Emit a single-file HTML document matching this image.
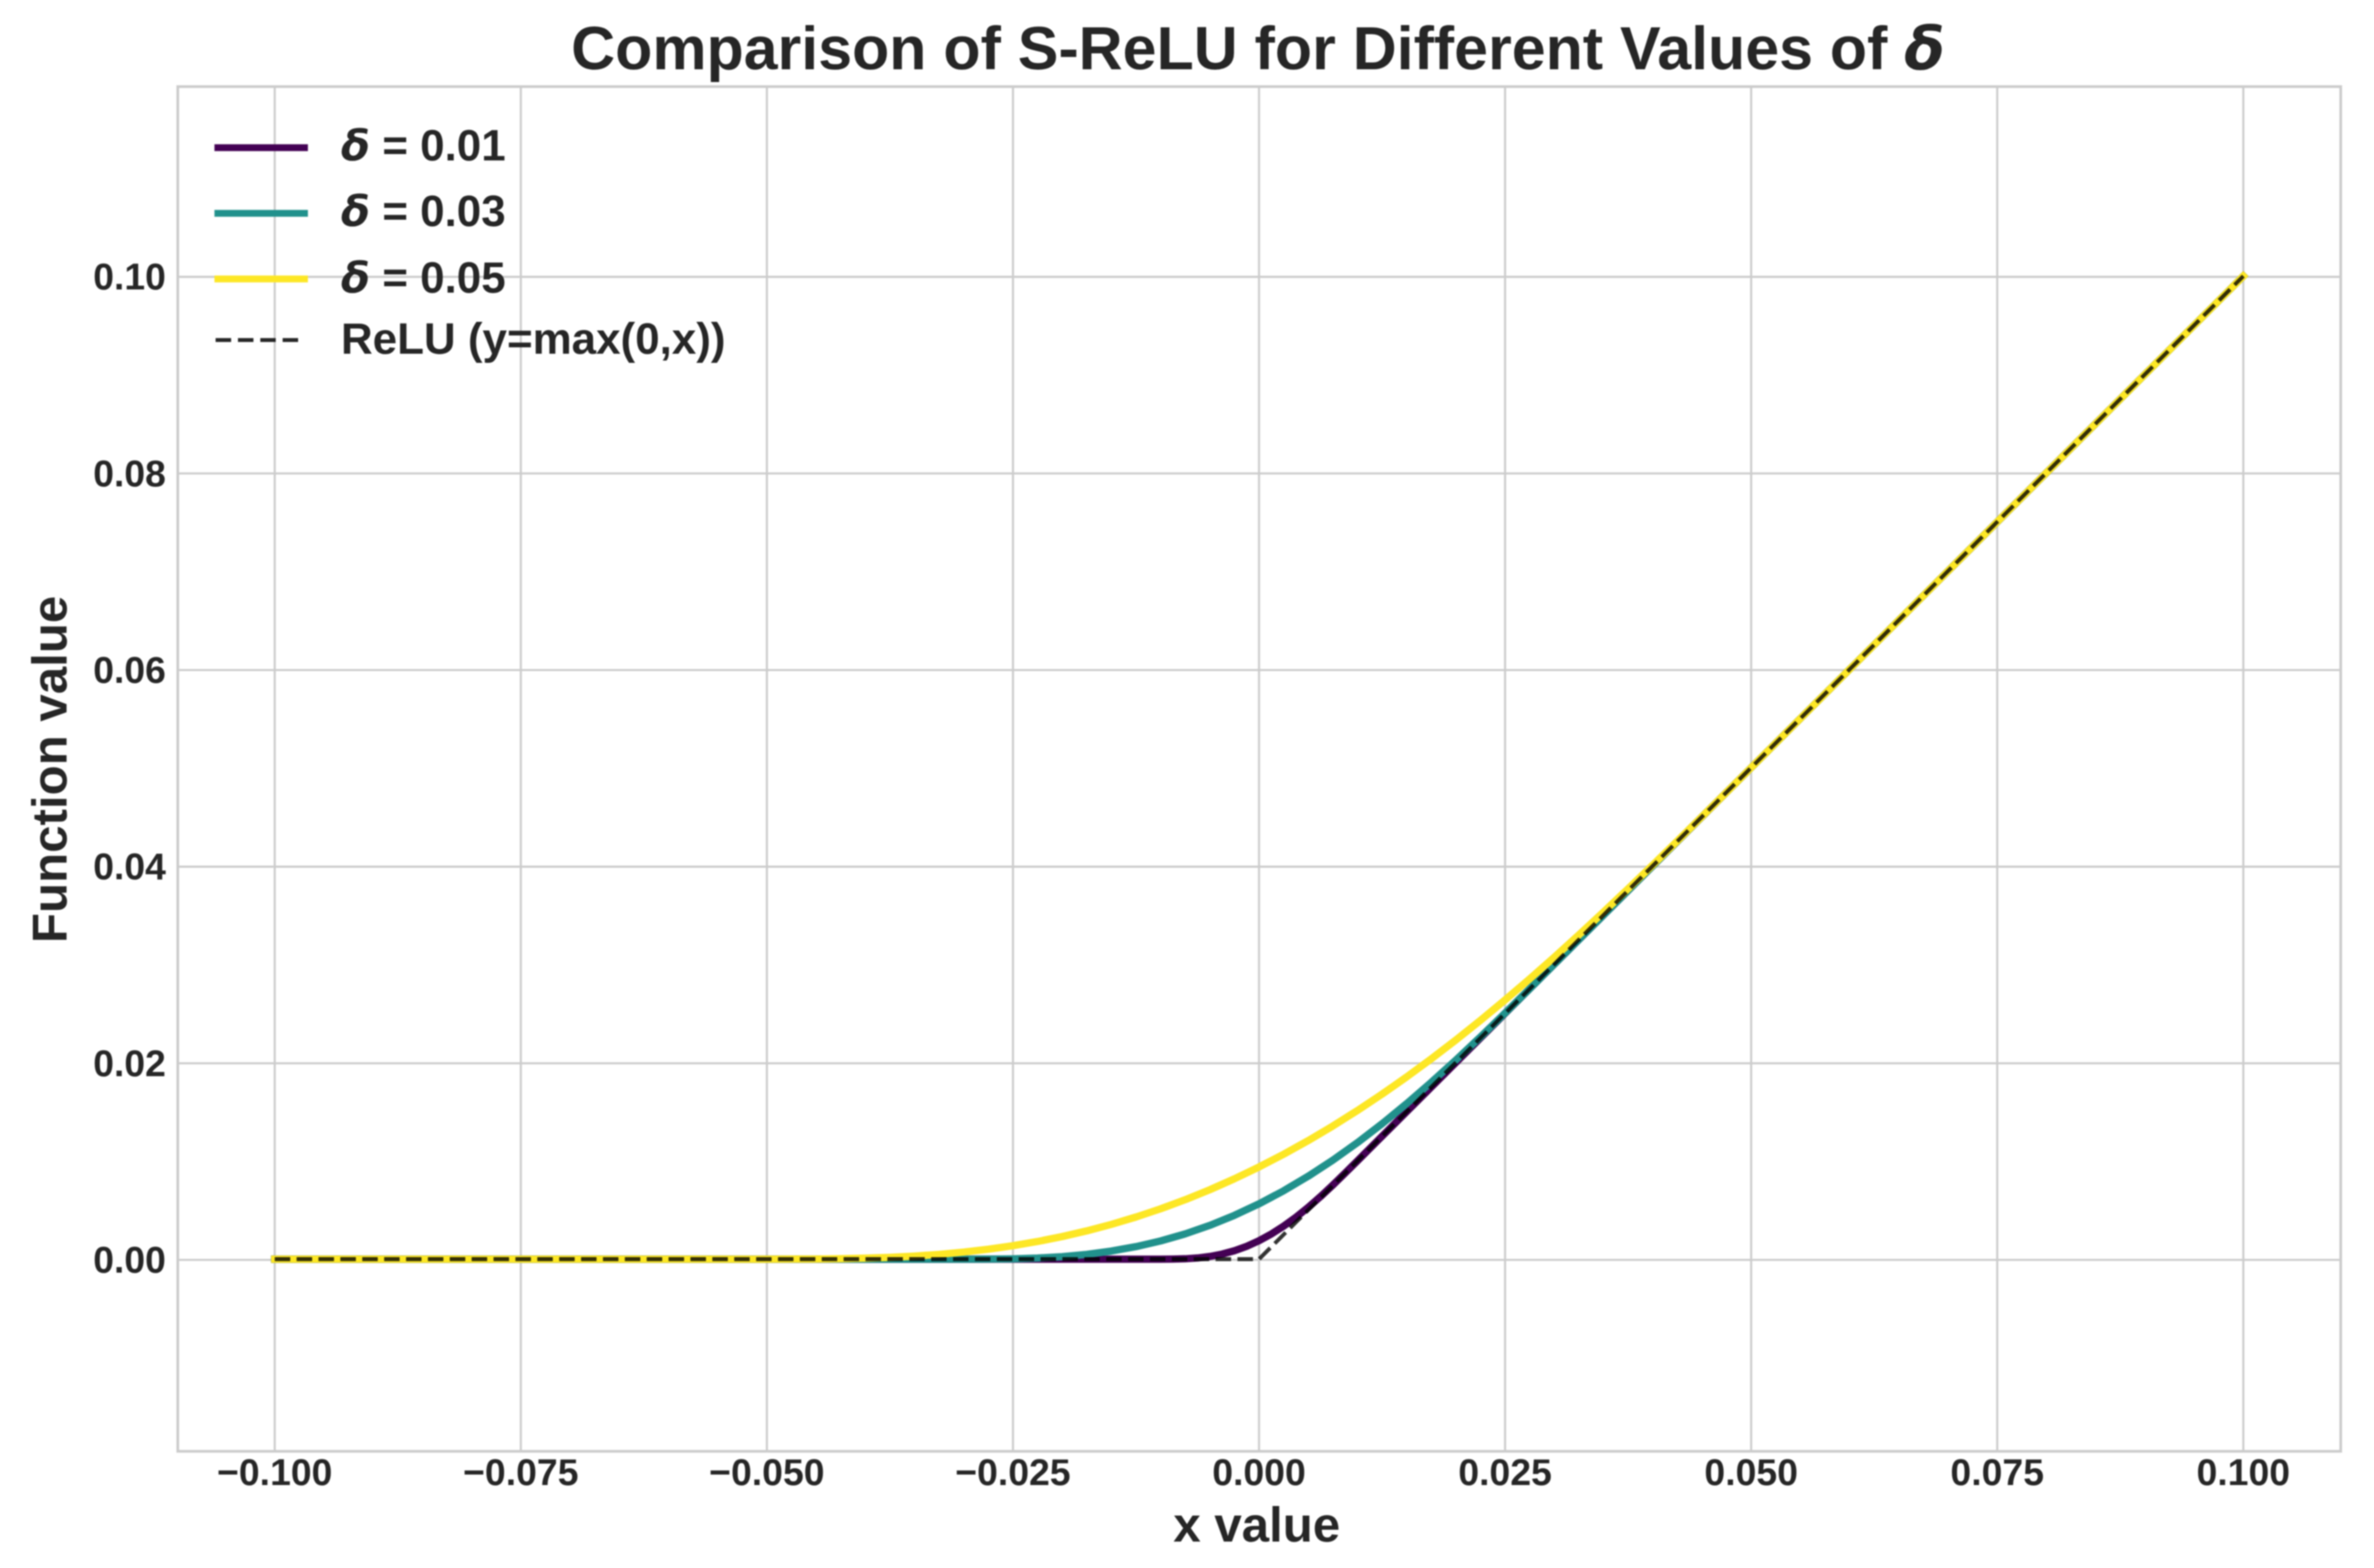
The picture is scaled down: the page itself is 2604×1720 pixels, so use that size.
<!DOCTYPE html>
<html lang="en">
<head>
<meta charset="utf-8">
<title>Comparison of S-ReLU for Different Values of δ</title>
<style>
  html, body { margin: 0; padding: 0; background: #ffffff; }
  body { width: 2604px; height: 1720px; overflow: hidden; }
  #chart { display: block; filter: blur(0.7px); }
  text { font-family: "Liberation Sans", sans-serif; font-weight: 700; fill: #262626; }
  .tick { font-size: 41px; }
  .axis-title { font-size: 54px; }
  .legend-text { font-size: 48.2px; }
  .greek { font-family: "DejaVu Sans", sans-serif; font-style: italic; font-weight: 700; }
  .legend-text .greek { font-size: 46.5px; }
  .title-greek { font-size: 65px; }
</style>
</head>
<body>
<svg id="chart" xmlns="http://www.w3.org/2000/svg" width="2604" height="1720" viewBox="0 0 2604 1720">
  <rect x="0" y="0" width="2604" height="1720" fill="#ffffff"/>
  <g id="grid"></g>
  <rect x="195" y="95" width="2372.5" height="1497" fill="none" stroke="#cccccc" stroke-width="3"/>
  <g id="series" transform="translate(0,-0.8)"></g>
  <g id="x-ticks"></g>
  <g id="y-ticks"></g>

  <text x="1380" y="76" text-anchor="middle" font-size="66.8">Comparison of S-ReLU for Different Values of <tspan class="greek title-greek">δ</tspan></text>
  <text class="axis-title" x="1378.5" y="1691" text-anchor="middle">x value</text>
  <text class="axis-title" x="73" y="844" text-anchor="middle" transform="rotate(-90 73 844)">Function value</text>

  <g>
    <g>
      <line x1="239" y1="162" x2="334" y2="162" stroke="#440154" stroke-width="7.5" stroke-linecap="square"/>
      <text class="legend-text" x="374" y="176"><tspan class="greek">δ</tspan> = 0.01</text>
    </g>
    <g>
      <line x1="239" y1="234" x2="334" y2="234" stroke="#21918c" stroke-width="7.5" stroke-linecap="square"/>
      <text class="legend-text" x="374" y="248"><tspan class="greek">δ</tspan> = 0.03</text>
    </g>
    <g>
      <line x1="239" y1="306" x2="334" y2="306" stroke="#fde725" stroke-width="7.5" stroke-linecap="square"/>
      <text class="legend-text" x="374" y="321"><tspan class="greek">δ</tspan> = 0.05</text>
    </g>
    <g>
      <line x1="236.5" y1="373" x2="328" y2="373" stroke="#262626" stroke-width="4.3" stroke-dasharray="17 7.5"/>
      <text class="legend-text" x="374" y="388">ReLU (y=max(0,x))</text>
    </g>
  </g>
</svg>

<script>
// Chart data
const xTicks = [-0.1, -0.075, -0.05, -0.025, 0, 0.025, 0.05, 0.075, 0.1];
const xTickLabels = ["\u22120.100", "\u22120.075", "\u22120.050", "\u22120.025", "0.000", "0.025", "0.050", "0.075", "0.100"];
const yTicks = [0, 0.02, 0.04, 0.06, 0.08, 0.1];
const yTickLabels = ["0.00", "0.02", "0.04", "0.06", "0.08", "0.10"];

const xDelta001 = [-0.1, -0.05, -0.02, -0.01, -0.00875, -0.0075, -0.00625, -0.005, -0.00375, -0.0025, -0.00125, 0, 0.00125, 0.0025, 0.00375, 0.005, 0.00625, 0.0075, 0.00875, 0.01, 0.05, 0.1];
const yDelta001 = [0, 0, 0, 0, 0.0000047, 0.0000366, 0.000119, 0.000273, 0.000515, 0.000857, 0.001308, 0.001875, 0.002558, 0.003357, 0.004265, 0.005273, 0.006369, 0.007537, 0.008755, 0.01, 0.05, 0.1];

const xDelta003 = [-0.1, -0.05, -0.03, -0.0275, -0.025, -0.0225, -0.02, -0.0175, -0.015, -0.0125, -0.01, -0.0075, -0.005, -0.0025, 0, 0.0025, 0.005, 0.0075, 0.01, 0.0125, 0.015, 0.0175, 0.02, 0.0225, 0.025, 0.0275, 0.03, 0.06, 0.1];
const yDelta003 = [0, 0, 0, 0.0000043, 0.0000333, 0.00011, 0.000255, 0.000486, 0.00082, 0.001272, 0.001852, 0.002571, 0.003436, 0.004453, 0.005625, 0.006953, 0.008436, 0.010071, 0.011852, 0.013772, 0.01582, 0.017986, 0.020255, 0.02261, 0.025033, 0.027504, 0.03, 0.06, 0.1];

const xDelta005 = [-0.1, -0.075, -0.05, -0.0475, -0.045, -0.0425, -0.04, -0.0375, -0.035, -0.0325, -0.03, -0.0275, -0.025, -0.0225, -0.02, -0.0175, -0.015, -0.0125, -0.01, -0.0075, -0.005, -0.0025, 0, 0.0025, 0.005, 0.0075, 0.01, 0.0125, 0.015, 0.0175, 0.02, 0.0225, 0.025, 0.0275, 0.03, 0.0325, 0.035, 0.0375, 0.04, 0.0425, 0.045, 0.0475, 0.05, 0.075, 0.1];
const yDelta005 = [0, 0, 0, 0.0000016, 0.0000122, 0.0000406, 0.000095, 0.000183, 0.000312, 0.000489, 0.00072, 0.001011, 0.001367, 0.001794, 0.002295, 0.002875, 0.003537, 0.004285, 0.00512, 0.006045, 0.007062, 0.008172, 0.009375, 0.010672, 0.012062, 0.013545, 0.01512, 0.016785, 0.018537, 0.020375, 0.022295, 0.024294, 0.026367, 0.028511, 0.03072, 0.032989, 0.035312, 0.037683, 0.040095, 0.042541, 0.045012, 0.047502, 0.05, 0.075, 0.1];

const xRelu = [-0.1, 0, 0.1];
const yRelu = [0, 0, 0.1];

// Axis functions
function xScale(v) { return 1381 + v * 10796.5; }
function yScale(v) { return 1382 - v * 10783; }

const NS = 'http://www.w3.org/2000/svg';
const gridGroup = document.getElementById('grid');
const seriesGroup = document.getElementById('series');
const xTickGroup = document.getElementById('x-ticks');
const yTickGroup = document.getElementById('y-ticks');

function toPoints(xs, ys) {
  return xs.map(function (x, i) {
    return xScale(x).toFixed(2) + ',' + yScale(ys[i]).toFixed(2);
  }).join(' ');
}

xTicks.forEach(function (t, i) {
  const gridLine = document.createElementNS(NS, 'line');
  gridLine.setAttribute('x1', xScale(t));
  gridLine.setAttribute('x2', xScale(t));
  gridLine.setAttribute('y1', 95);
  gridLine.setAttribute('y2', 1592);
  gridLine.setAttribute('stroke', '#cccccc');
  gridLine.setAttribute('stroke-width', 2.3);
  
  
  gridGroup.appendChild(gridLine);

  const label = document.createElementNS(NS, 'text');
  label.setAttribute('class', 'tick');
  label.setAttribute('x', xScale(t));
  label.setAttribute('y', 1629);
  label.setAttribute('text-anchor', 'middle');
  label.textContent = xTickLabels[i];
  
  
  xTickGroup.appendChild(label);
});

yTicks.forEach(function (t, i) {
  const gridLine = document.createElementNS(NS, 'line');
  gridLine.setAttribute('x1', 195);
  gridLine.setAttribute('x2', 2567.5);
  gridLine.setAttribute('y1', yScale(t));
  gridLine.setAttribute('y2', yScale(t));
  gridLine.setAttribute('stroke', '#cccccc');
  gridLine.setAttribute('stroke-width', 2.3);
  
  
  gridGroup.appendChild(gridLine);

  const label = document.createElementNS(NS, 'text');
  label.setAttribute('class', 'tick');
  label.setAttribute('x', 182);
  label.setAttribute('y', yScale(t) + 14);
  label.setAttribute('text-anchor', 'end');
  label.textContent = yTickLabels[i];
  
  
  yTickGroup.appendChild(label);
});

const lineDelta001 = document.createElementNS(NS, 'polyline');
lineDelta001.setAttribute('points', toPoints(xDelta001, yDelta001));
lineDelta001.setAttribute('fill', 'none');
lineDelta001.setAttribute('stroke', '#440154');
lineDelta001.setAttribute('stroke-width', 8);
lineDelta001.setAttribute('stroke-linecap', 'square');
lineDelta001.setAttribute('stroke-linejoin', 'round');


seriesGroup.appendChild(lineDelta001);

const lineDelta003 = document.createElementNS(NS, 'polyline');
lineDelta003.setAttribute('points', toPoints(xDelta003, yDelta003));
lineDelta003.setAttribute('fill', 'none');
lineDelta003.setAttribute('stroke', '#21918c');
lineDelta003.setAttribute('stroke-width', 8);
lineDelta003.setAttribute('stroke-linecap', 'square');
lineDelta003.setAttribute('stroke-linejoin', 'round');


seriesGroup.appendChild(lineDelta003);

const lineDelta005 = document.createElementNS(NS, 'polyline');
lineDelta005.setAttribute('points', toPoints(xDelta005, yDelta005));
lineDelta005.setAttribute('fill', 'none');
lineDelta005.setAttribute('stroke', '#fde725');
lineDelta005.setAttribute('stroke-width', 8);
lineDelta005.setAttribute('stroke-linecap', 'square');
lineDelta005.setAttribute('stroke-linejoin', 'round');


seriesGroup.appendChild(lineDelta005);

const lineRelu = document.createElementNS(NS, 'polyline');
lineRelu.setAttribute('points', toPoints(xRelu, yRelu));
lineRelu.setAttribute('fill', 'none');
lineRelu.setAttribute('stroke', '#000000');
lineRelu.setAttribute('stroke-opacity', 0.8);
lineRelu.setAttribute('stroke-width', 4.3);
lineRelu.setAttribute('stroke-dasharray', '17 7');


seriesGroup.appendChild(lineRelu);
</script>
</body>
</html>
